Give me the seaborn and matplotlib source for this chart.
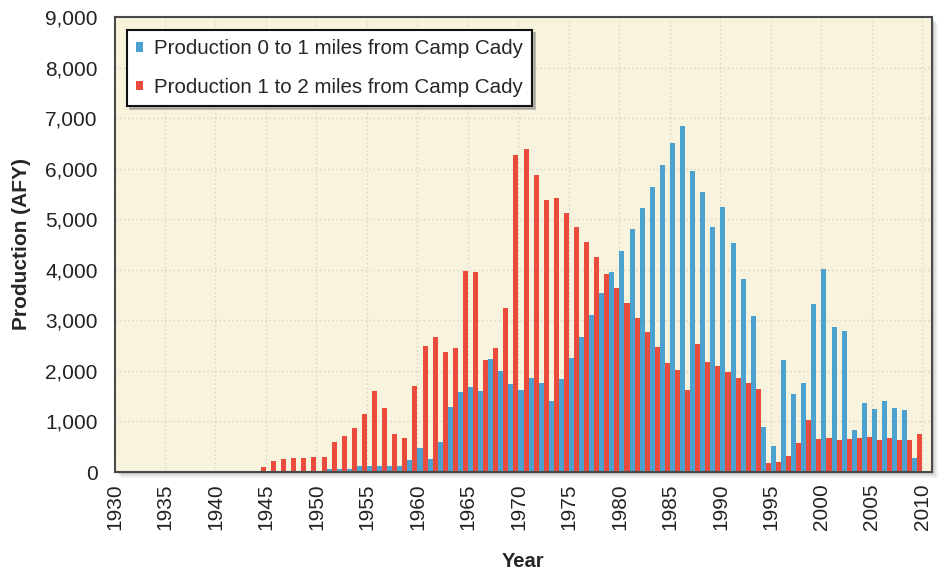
import matplotlib
matplotlib.use("Agg")
import pandas as pd
import seaborn as sns
import matplotlib.pyplot as plt
from matplotlib.patches import Rectangle
from matplotlib.ticker import FuncFormatter

# data (acre-feet per year)
years = list(range(1945, 2011))
near_cady = [0, 0, 0, 0, 0, 0, 0, 60, 55, 55,
             115, 115, 115, 115, 115, 235, 475, 265, 590, 1285,
             1575, 1675, 1595, 2235, 2005, 1750, 1615, 1865, 1770, 1395,
             1835, 2255, 2675, 3105, 3535, 3960, 4375, 4800, 5230, 5640,
             6070, 6500, 6835, 5955, 5545, 4840, 5245, 4525, 3815, 3095,
             895, 505, 2215, 1550, 1765, 3315, 4025, 2865, 2790, 840,
             1355, 1240, 1395, 1275, 1235, 275]
far_cady = [90, 210, 250, 275, 285, 290, 300, 600, 720, 880,
            1150, 1605, 1270, 760, 680, 1705, 2495, 2675, 2375, 2455,
            3985, 3965, 2220, 2455, 3240, 6265, 6395, 5865, 5375, 5415,
            5120, 4845, 4550, 4255, 3925, 3645, 3350, 3055, 2760, 2465,
            2150, 2015, 1625, 2525, 2185, 2105, 1975, 1855, 1755, 1645,
            170, 195, 325, 565, 1020, 645, 665, 625, 645, 665,
            700, 640, 665, 640, 640, 760]
series_names = ["Production 0 to 1 miles from Camp Cady",
                "Production 1 to 2 miles from Camp Cady"]
tick_years = list(range(1930, 2011, 5))
y_ticks = list(range(0, 9001, 1000))

colors = ["#4ba1d0", "#e94c3d"]

df = pd.DataFrame({
    "Year": years * 2,
    "Production": near_cady + far_cady,
    "Series": [series_names[0]] * len(years) + [series_names[1]] * len(years),
})

sns.set_theme(style="white")
plt.rcParams['font.family'] = ['Liberation Sans', 'DejaVu Sans']

W, H = 940, 574
fig = plt.figure(figsize=(W / 100, H / 100), dpi=100)
left, right, top, bottom = 114.5, 932, 17, 472
ax = fig.add_axes([left / W, 1 - bottom / H, (right - left) / W, (bottom - top) / H])

# soft drop shadow behind the plot area
for off, a in [(6, 0.05), (4, 0.08), (2, 0.12)]:
    fig.add_artist(Rectangle(((left + off) / W, 1 - (bottom + off) / H),
                             (right - left) / W, (bottom - top) / H,
                             transform=fig.transFigure, facecolor="black",
                             alpha=a, edgecolor="none", zorder=-1))

sns.barplot(data=df, x="Year", y="Production", hue="Series",
            native_scale=True, width=1.0, palette=colors, saturation=1,
            errorbar=None, linewidth=0, ax=ax)

ax.set_facecolor("#f8f3dc")
ax.set_xlim(1930.5, 2011.45)
ax.set_ylim(0, 9000)
ax.set_xticks([y + 0.5 for y in tick_years], labels=[str(y) for y in tick_years], rotation=90)
ax.set_yticks(y_ticks)
ax.yaxis.set_major_formatter(FuncFormatter(lambda v, p: f"{int(v):,}"))

ax.grid(True, linestyle=(0, (1, 2)), color="#d6d3c6", linewidth=1)
ax.set_axisbelow(True)
for s in ax.spines.values():
    s.set_color("#4a4a4a")
    s.set_linewidth(1.5)

ax.tick_params(axis="both", direction="out", length=5, width=1, color="#9a9a9a",
               labelsize=15, labelcolor="#222222", pad=3)
ax.tick_params(axis="y", pad=7)
ax.set_xlabel("Year", fontsize=14.5, fontweight="bold", labelpad=16)
ax.set_ylabel("Production (AFY)", fontsize=15, fontweight="bold", labelpad=10)

handles, labels = ax.get_legend_handles_labels()
leg = ax.legend(handles, labels, loc="upper left",
                bbox_to_anchor=(12.5 / (right - left), 1 - 13 / (bottom - top)),
                borderaxespad=0, fontsize=14.8, frameon=True, fancybox=False,
                shadow={"color": "#888888", "alpha": 0.5},
                handlelength=0.35, handleheight=0.35, handletextpad=0.5,
                labelspacing=0.95, borderpad=0.45)
leg.get_frame().set_edgecolor("#111111")
leg.get_frame().set_linewidth(1.5)
leg.get_frame().set_facecolor("white")
leg.get_frame().set_alpha(1)

fig.savefig("out.png", dpi=100, facecolor="white")
